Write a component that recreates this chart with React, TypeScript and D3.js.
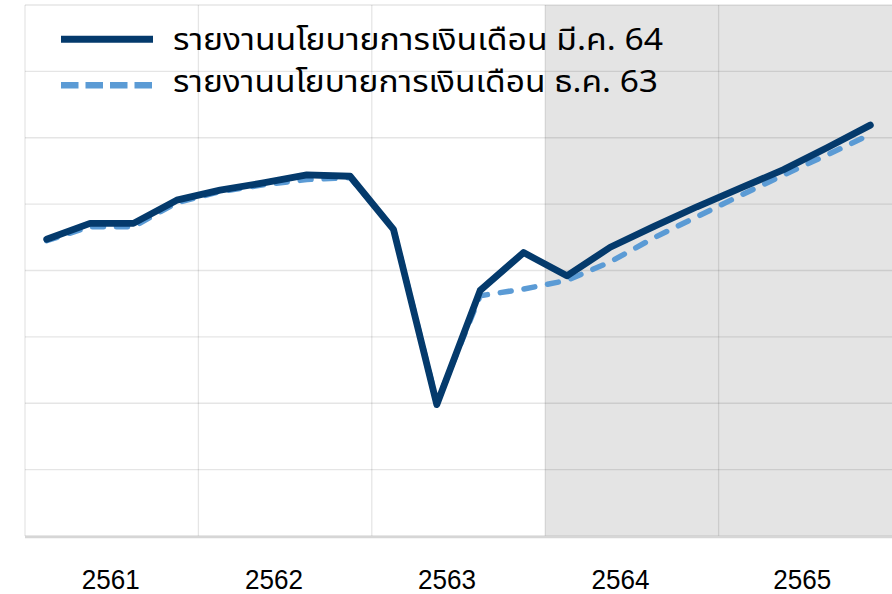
import React from 'react';
import * as d3 from 'd3';

// ---- data ----
const years = ['2561', '2562', '2563', '2564', '2565'];
const quarterNames = ['Q1', 'Q2', 'Q3', 'Q4'];
const periods = years.flatMap((y) => quarterNames.map((q) => `${y}${q}`));
const forecastStartYear = '2564';

// รายงานนโยบายการเงินเดือน มี.ค. 64 (index units)
const reportMar64 = [
  44.7, 47.1, 47.1, 50.6, 52.1, 53.2, 54.4, 54.2, 46.2, 19.8,
  37.0, 42.7, 39.2, 43.5, 46.6, 49.6, 52.4, 55.2, 58.5, 61.9,
];
// รายงานนโยบายการเงินเดือน ธ.ค. 63 (index units)
const reportDec63 = [
  44.5, 46.6, 46.6, 50.2, 51.9, 52.9, 53.7, 54.0, 46.3, 20.1,
  36.2, 37.2, 38.5, 41.3, 44.9, 48.1, 51.3, 54.4, 57.4, 60.5,
];
const seriesNames = [
  'รายงานนโยบายการเงินเดือน มี.ค. 64',
  'รายงานนโยบายการเงินเดือน ธ.ค. 63',
];
const yTicks = [0, 10, 20, 30, 40, 50, 60, 70, 80];

// ---- layout / style ----
const W = 892;
const H = 594;
const left = 25;
const right = 892;
const top = 5;
const bottom = 536;
const labelNudge = [-1, -11, -11.5, -11.5, -3];
const NAVY = '#043a6c';
const BLUE = '#5b9bd5';
const SHADE = '#e4e4e4';
const THAI_FONT = "'Noto Sans Thai', 'Leelawadee UI', Tahoma, 'Noto Sans', 'DejaVu Sans', sans-serif";

export default function App() {
  const xYear = d3.scaleBand<string>().domain(years).range([left, right]).padding(0);
  const xQ = d3.scaleBand<string>().domain(periods).range([left, right]).padding(0);
  const y = d3.scaleLinear().domain([0, 80]).range([bottom, top]);

  const cx = (p: string) => (xQ(p) as number) + xQ.bandwidth() / 2;
  const line = d3
    .line<number>()
    .x((_, i) => cx(periods[i]))
    .y((d) => y(d));

  const shadeX = xYear(forecastStartYear) as number;

  return (
    <svg
      width={W}
      height={H}
      style={{ position: 'fixed', left: 0, top: 0, background: '#fff' }}
    >
      <rect x={shadeX} y={y(80)} width={right - shadeX} height={y(0) - y(80)} fill={SHADE} />
      {/* horizontal gridlines */}
      {yTicks.map((t) => (
        <line
          key={`h${t}`}
          x1={left}
          x2={right}
          y1={y(t)}
          y2={y(t)}
          stroke="#000"
          strokeOpacity={0.1}
          strokeWidth={1.3}
        />
      ))}
      {/* vertical gridlines at year boundaries */}
      {years.map((yr) => (
        <line
          key={`v${yr}`}
          x1={xYear(yr) as number}
          x2={xYear(yr) as number}
          y1={y(80)}
          y2={y(0)}
          stroke="#000"
          strokeOpacity={0.1}
          strokeWidth={1.3}
        />
      ))}
      {/* bottom axis */}
      <line x1={left} x2={right} y1={y(0) + 1} y2={y(0) + 1} stroke="#d6d6d6" strokeWidth={2.5} />

      {/* series */}
      <path
        d={line(reportDec63) || ''}
        fill="none"
        stroke={BLUE}
        strokeWidth={5.5}
        strokeDasharray="11 13"
        strokeLinecap="round"
        strokeLinejoin="round"
      />
      <path
        d={line(reportMar64) || ''}
        fill="none"
        stroke={NAVY}
        strokeWidth={6.8}
        strokeLinecap="round"
        strokeLinejoin="round"
      />

      {/* x labels */}
      {years.map((yr, i) => (
        <text
          key={`l${yr}`}
          x={(xYear(yr) as number) + xYear.bandwidth() / 2 + labelNudge[i]}
          y={589}
          textAnchor="middle"
          fontFamily="'Liberation Sans', Arial, sans-serif"
          fontSize={28}
          textLength={58}
          lengthAdjust="spacingAndGlyphs"
          fill="#000"
        >
          {yr}
        </text>
      ))}

      {/* legend */}
      <line x1={61} x2={153} y1={39.3} y2={39.3} stroke={NAVY} strokeWidth={7} />
      <text
        x={173}
        y={50}
        fontFamily={THAI_FONT}
        fontSize={30}
        textLength={490}
        lengthAdjust="spacingAndGlyphs"
        fill="#000"
      >
        {seriesNames[0]}
      </text>
      <line
        x1={61}
        x2={153}
        y1={85.3}
        y2={85.3}
        stroke={BLUE}
        strokeWidth={6.5}
        strokeDasharray="17.5 7"
      />
      <text
        x={173}
        y={92}
        fontFamily={THAI_FONT}
        fontSize={30}
        textLength={485}
        lengthAdjust="spacingAndGlyphs"
        fill="#000"
      >
        {seriesNames[1]}
      </text>
    </svg>
  );
}
